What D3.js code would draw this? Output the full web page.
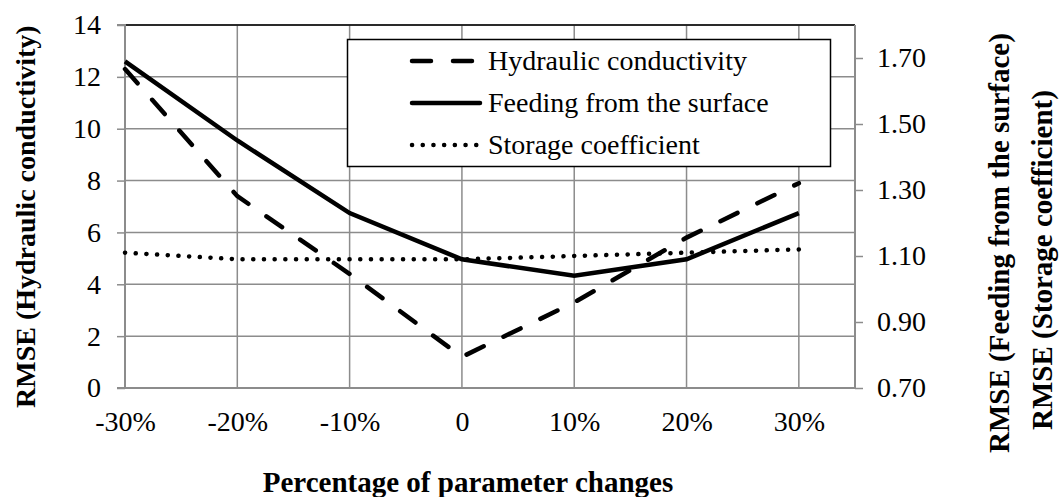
<!DOCTYPE html>
<html><head><meta charset="utf-8">
<script src="https://cdn.jsdelivr.net/npm/d3@7"></script>
<style>body{margin:0;background:#fff}svg{display:block}text{font-family:"Liberation Serif","Times New Roman",serif}</style>
</head><body>
<svg id="c" width="1060" height="497"></svg>
<script>
const categories = [-30, -20, -10, 0, 10, 20, 30];
const xTickLabels = ["-30%", "-20%", "-10%", "0", "10%", "20%", "30%"];
const hydraulic = [12.3, 7.4, 4.4, 1.2, 3.3, 5.8, 7.9];       // left axis
const feeding = [1.69, 1.45, 1.23, 1.09, 1.04, 1.09, 1.23];   // right axis
const storage = [1.11, 1.09, 1.09, 1.09, 1.10, 1.11, 1.12];   // right axis
const leftTicks = [0, 2, 4, 6, 8, 10, 12, 14];
const rightTicks = [0.70, 0.90, 1.10, 1.30, 1.50, 1.70];
const seriesNames = ["Hydraulic conductivity", "Feeding from the surface", "Storage coefficient"];

const svg = d3.select("#c");
const L = 125, R = 855, T = 25, B = 388;
const x = d3.scaleLinear().domain([-30, 35]).range([L, R]);
const yL = d3.scaleLinear().domain([0, 14]).range([B, T]);
const yR = d3.scaleLinear().domain([0.70, 1.80]).range([B, T]);
const grid = "#8c8c8c";

// gridlines
svg.append("g").selectAll("line").data(leftTicks.slice(1)).join("line")
  .attr("x1", L).attr("x2", R).attr("y1", d => yL(d)).attr("y2", d => yL(d))
  .attr("stroke", grid).attr("stroke-width", 1.5);
svg.append("g").selectAll("line").data(categories.slice(1)).join("line")
  .attr("x1", d => x(d)).attr("x2", d => x(d)).attr("y1", T).attr("y2", B)
  .attr("stroke", grid).attr("stroke-width", 1.5);
// top border
svg.append("line").attr("x1", L).attr("x2", R).attr("y1", T).attr("y2", T)
  .attr("stroke", "#000").attr("stroke-width", 1.5);

// axes
const fs = 28, tfs = 29;
const gl = svg.append("g").attr("transform", `translate(${L},0)`)
  .call(d3.axisLeft(yL).tickValues(leftTicks).tickSize(8).tickPadding(16).tickFormat(d3.format("d")));
const gr = svg.append("g").attr("transform", `translate(${R},0)`)
  .call(d3.axisRight(yR).tickValues(rightTicks).tickSize(8).tickPadding(14).tickFormat(d3.format(".2f")));
const gb = svg.append("g").attr("transform", `translate(0,${B})`)
  .call(d3.axisBottom(x).tickValues(categories).tickSize(0).tickPadding(34).tickFormat((d, i) => xTickLabels[i]));
[gl, gr, gb].forEach(g => {
  g.select(".domain").attr("stroke", grid).attr("stroke-width", 2);
  g.selectAll(".tick line").attr("stroke", grid).attr("stroke-width", 1.5);
  g.selectAll("text").attr("font-size", fs).attr("fill", "#000")
    .style("font-family", '"Liberation Serif","Times New Roman",serif');
});
gb.selectAll("text").attr("dy", "0.33em");
gb.select(".domain").attr("d", `M${L},0H${R}`);
gl.select(".domain").attr("d", `M-8,${T}H0V${B}H-8`);
gr.select(".domain").attr("d", `M0,${T}V${B}`);

// lines
const lineL = d3.line().x((d, i) => x(categories[i])).y(d => yL(d));
const lineR = d3.line().x((d, i) => x(categories[i])).y(d => yR(d));
const styles = [
  {dash: "19,22"},
  {dash: null},
  {dash: "0.1,10.6"}
];
svg.append("path").datum(storage).attr("d", lineR).attr("fill", "none").attr("stroke", "#000")
  .attr("stroke-width", 4.5).attr("stroke-dasharray", styles[2].dash).attr("stroke-linecap", "round");
svg.append("path").datum(hydraulic).attr("d", lineL).attr("fill", "none").attr("stroke", "#000")
  .attr("stroke-width", 4.5).attr("stroke-dasharray", styles[0].dash).attr("stroke-linecap", "round");
svg.append("path").datum(feeding).attr("d", lineR).attr("fill", "none").attr("stroke", "#000")
  .attr("stroke-width", 4.5);

// legend
const lg = svg.append("g");
lg.append("rect").attr("x", 347.5).attr("y", 39.5).attr("width", 483).attr("height", 127)
  .attr("fill", "#fff").attr("stroke", "#000").attr("stroke-width", 1.5);
seriesNames.forEach((n, i) => {
  const yy = 61 + i * 42;
  lg.append("line").attr("x1", 412).attr("x2", 480).attr("y1", yy).attr("y2", yy)
    .attr("stroke", "#000").attr("stroke-width", 4.5)
    .attr("stroke-dasharray", styles[i].dash).attr("stroke-linecap", "round");
  lg.append("text").attr("x", 488).attr("y", yy + 9).attr("font-size", fs).text(n);
});

// axis titles
svg.append("text").attr("transform", `translate(35,408) rotate(-90)`).attr("text-anchor", "start")
  .attr("font-size", 28).attr("font-weight", "bold").text("RMSE (Hydraulic conductivity)");
svg.append("text").attr("transform", `translate(1009,453) rotate(-90)`).attr("text-anchor", "start")
  .attr("font-size", tfs).attr("font-weight", "bold").text("RMSE (Feeding from the surface)");
svg.append("text").attr("transform", `translate(1052,430) rotate(-90)`).attr("text-anchor", "start")
  .attr("font-size", tfs).attr("font-weight", "bold").text("RMSE (Storage coefficient)");
svg.append("text").attr("x", 468).attr("y", 492).attr("text-anchor", "middle")
  .attr("font-size", tfs).attr("font-weight", "bold").text("Percentage of parameter changes");
</script>
</body></html>
